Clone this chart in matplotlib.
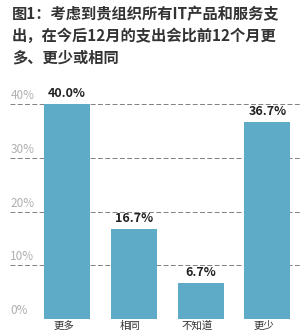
import matplotlib
matplotlib.use('Agg')
import matplotlib.pyplot as plt

plt.rcParams['font.family'] = ['Noto Sans CJK SC', 'DejaVu Sans']

# 数据
categories = ['更多', '相同', '不知道', '更少']
values = [40.0, 16.7, 6.7, 36.7]
yticks = [0, 10, 20, 30, 40]
ytick_labels = ['0%', '10%', '20%', '30%', '40%']
title = '图1：考虑到贵组织所有IT产品和服务支\n出，在今后12月的支出会比前12个月更\n多、更少或相同'

bar_color = '#5eabc8'

fig = plt.figure(figsize=(3.06, 3.33), dpi=100)
fig.patch.set_facecolor('white')

fig.text(12 / 306, 1 - 6 / 333, title, ha='left', va='top', fontsize=11,
         fontweight='bold', color='#333333', linespacing=1.45)

ax = fig.add_axes([10 / 306, 14 / 333, 290 / 306, 236 / 333])
x = range(len(categories))
ax.bar(x, values, width=0.69, color=bar_color, zorder=3)
ax.set_xlim(-0.855, 3.49)
ax.set_ylim(0, 44)

# 虚线网格和y轴文字
for t, lab in zip(yticks, ytick_labels):
    ax.axhline(t, color='#808080', lw=0.7, ls=(0, (5, 2.5)), zorder=1)
    ax.text(-0.85, t + 0.4, lab, ha='left', va='bottom', fontsize=8.5,
            color='#b0b0b0', zorder=4)

# 数值标签
for i, v in enumerate(values):
    ax.text(i, v + 0.8, '%.1f%%' % v, ha='center', va='bottom', fontsize=9,
            fontweight='semibold', color='#222222', zorder=4)

# 类别标签
for i, c in enumerate(categories):
    ax.text(i - 0.05, -0.3, c, ha='center', va='top', fontsize=7.5,
            color='#333333', clip_on=False)

for s in ax.spines.values():
    s.set_visible(False)
ax.set_xticks([])
ax.set_yticks([])

fig.savefig('out.png', dpi=100, facecolor='white')
